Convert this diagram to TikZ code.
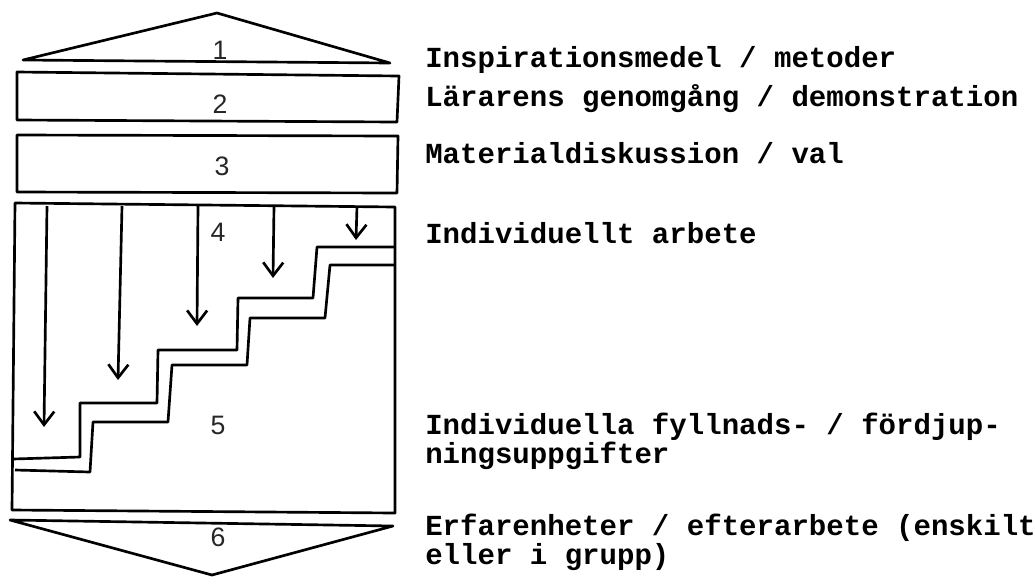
\documentclass[tikz,border=0pt]{standalone}
\usepackage{fontspec}
\setmonofont{Liberation Mono}
\newfontfamily\digitfont{Liberation Sans}
\usetikzlibrary{arrows.meta}
\tikzset{
  ln/.style={line width=2pt, line join=round},
  arr/.style={line width=2pt, -{Straight Barb[length=10pt,width=15pt,line width=2pt]}},
  num/.style={font=\digitfont\fontsize{20}{20}\selectfont, text=black!85},
  txt/.style={anchor=base west, align=left, inner sep=0pt,
    font=\ttfamily\bfseries\fontsize{21.8}{18.75}\selectfont}
}
\begin{document}
\begin{tikzpicture}[x=0.75pt,y=-0.75pt]
    \useasboundingbox (0,0) rectangle (1035,583);
    \draw[ln] (23,60) -- (217,13) -- (390,63) -- cycle;
    \draw[ln] (17,72) -- (399,76) -- (397,122) -- (17,120) -- cycle;
    \draw[ln] (17,135) -- (398,136) -- (397,193) -- (17,192) -- cycle;
    \draw[ln] (15,203) -- (395,207) -- (395,513) -- (12,510) -- cycle;
    \draw[ln] (10,520) -- (393,526) -- (212,575) -- cycle;
    \draw[ln] (395,247) -- (317,247) -- (313,298) -- (238,298) -- (237,350) -- (158,350)
      -- (157,403) -- (80,403) -- (80,457) -- (13,459);
    \draw[ln] (395,265) -- (330,265) -- (325,318) -- (250,318) -- (247,365) -- (172,365)
      -- (168,422) -- (93,422) -- (90,472) -- (15,470);
    \foreach \xa/\xb/\yb in {47/44/427, 122/118/380, 198/197/326, 274/273/278, 357/356/240}
      \draw[arr] (\xa,206) -- (\xb,\yb);
    \node[num] (n1) at (220,50) {1};
    \node[num] (n2) at (220,104) {2};
    \node[num] (n3) at (222,166) {3};
    \node[num] (n4) at (218,232) {4};
    \node[num] (n5) at (218,425) {5};
    \node[num] (n6) at (218,537) {6};
    \node[txt] (t1) at (425,67) {Inspirationsmedel / metoder};
    \node[txt] (t2) at (425,106) {Lärarens genomgång / demonstration};
    \node[txt] (t3) at (425,163) {Materialdiskussion / val};
    \node[txt] (t4) at (425,243) {Individuellt arbete};
    \node[txt] (t5) at (425,463) {Individuella fyllnads- / fördjup-\\ningsuppgifter};
    \node[txt] (t6) at (425,564) {Erfarenheter / efterarbete (enskilt\\eller i grupp)};
  \end{tikzpicture}
\end{document}
